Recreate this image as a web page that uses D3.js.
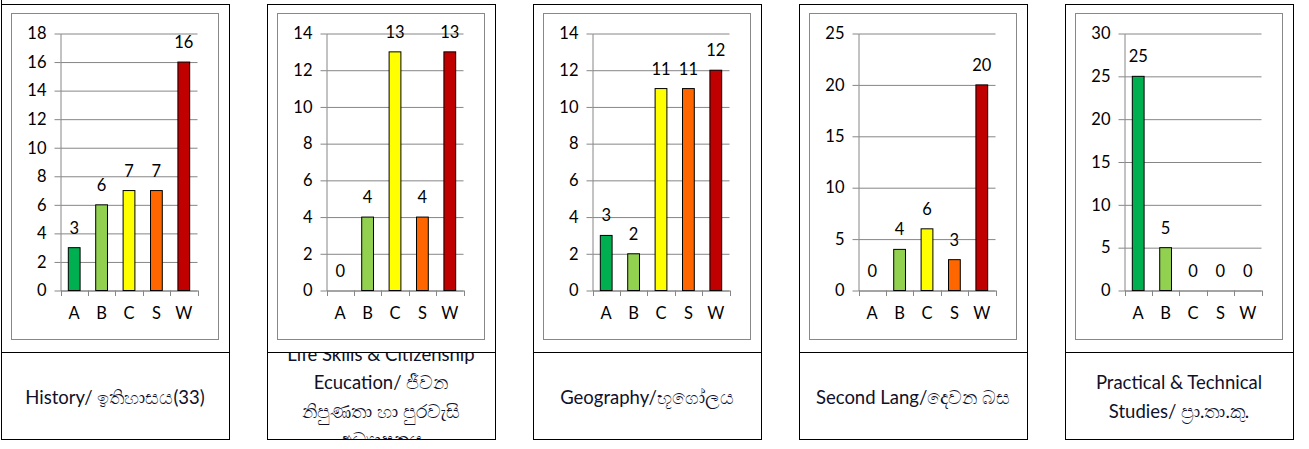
<!DOCTYPE html>
<html>
<head>
<meta charset="utf-8">
<script src="https://cdn.jsdelivr.net/npm/d3@7"></script>
<style>
  html, body { margin: 0; padding: 0; background: #fff; }
  svg { display: block; font-family: Lato, "Noto Sans", sans-serif; }
</style>
</head>
<body>
<svg id="chart" width="1309" height="449"></svg>
<script>
// grades on the x axis, same for every subject
const grades = ["A", "B", "C", "S", "W"];
const gradeColors = ["#00b050", "#92d050", "#ffff00", "#ff6600", "#c00000"];

// counts per grade, one array per subject
const history = [3, 6, 7, 7, 16];
const lifeSkills = [0, 4, 13, 4, 13];
const geography = [3, 2, 11, 11, 12];
const secondLang = [0, 4, 6, 3, 20];
const practical = [25, 5, 0, 0, 0];

// y axis top and step for each panel
const axisMax = [18, 14, 14, 25, 30];
const axisStep = [2, 2, 2, 5, 5];

// text in the cell under each chart, already split in lines
const subjectLabels = [
  ["History/ ඉතිහාසය(33)"],
  ["Life Skills & Citizenship", "Ecucation/ ජීවන", "නිපුණතා හා පුරවැසි", "අධ්‍යාපනය"],
  ["Geography/භූගෝලය"],
  ["Second Lang/දෙවන බස"],
  ["Practical & Technical", "Studies/ ප්‍රා.තා.කු."]
];

const subjects = [history, lifeSkills, geography, secondLang, practical];

const svg = d3.select("#chart");

const panelW = 228, pitch = 266;
const boxTop = 4.5, divider = 352.5, boxBottom = 439.5;
const numFont = "16.5px";

// the left border of the first cell runs up to the page edge
svg.append("line")
  .attr("x1", 1.5).attr("x2", 1.5).attr("y1", 0).attr("y2", boxTop)
  .attr("stroke", "#000");

subjects.forEach((values, i) => {
  const L = 1 + i * pitch;
  const g = svg.append("g");
  const rows = grades.map((gr, k) => ({ grade: gr, value: values[k], color: gradeColors[k] }));

  // label cell, text clipped to it
  svg.append("clipPath").attr("id", "clip" + i)
    .append("rect")
      .attr("x", L).attr("y", divider)
      .attr("width", panelW).attr("height", boxBottom - divider);

  const lines = subjectLabels[i];
  const lh = 28.5;
  const midY = 397;
  const lbl = g.append("g").attr("clip-path", "url(#clip" + i + ")");
  lines.forEach((t, k) => {
    lbl.append("text")
      .attr("x", L + 114)
      .attr("y", midY + (k - (lines.length - 1) / 2) * lh + 6.5)
      .attr("text-anchor", "middle")
      .style("font-size", "18.5px")
      .style("fill", "#10102a")
      .text(t);
  });

  // table cell borders
  g.append("rect")
    .attr("x", L + 0.5).attr("y", boxTop)
    .attr("width", panelW).attr("height", boxBottom - boxTop)
    .attr("fill", "none").attr("stroke", "#000");
  g.append("line")
    .attr("x1", L + 0.5).attr("x2", L + 0.5 + panelW)
    .attr("y1", divider).attr("y2", divider)
    .attr("stroke", "#000");

  // chart frame
  g.append("rect")
    .attr("x", L + 10.5).attr("y", 13.5)
    .attr("width", 207).attr("height", 326)
    .attr("fill", "#fff").attr("stroke", "#888");

  const x = d3.scaleBand()
    .domain(grades)
    .range([L + 59.5, L + 196.5])
    .paddingInner(0.57)
    .paddingOuter(0.285);

  const y = d3.scaleLinear()
    .domain([0, axisMax[i]])
    .range([290.5, 33.5]);

  const ticks = d3.range(0, axisMax[i] + axisStep[i] / 2, axisStep[i]);

  // grid lines
  g.append("g")
    .attr("transform", `translate(${L + 59.5},0)`)
    .call(d3.axisLeft(y).tickValues(ticks).tickSize(-(196.5 - 59.5)).tickFormat(""))
    .call(a => a.select(".domain").remove())
    .call(a => a.selectAll("line").attr("stroke", "#868686"));

  // y axis with labels
  g.append("g")
    .attr("transform", `translate(${L + 59.5},0)`)
    .call(d3.axisLeft(y).tickValues(ticks).tickSize(6).tickPadding(8).tickSizeOuter(0))
    .call(a => a.select(".domain").attr("stroke", "#868686"))
    .call(a => a.selectAll("line").attr("stroke", "#868686"))
    .call(a => a.selectAll("text")
      .style("font-size", numFont).style("font-family", "Lato, sans-serif").attr("fill", "#000"));

  // x axis: labels centred, ticks at category edges
  g.append("g")
    .attr("transform", "translate(0,290.5)")
    .call(d3.axisBottom(x).tickSize(0).tickPadding(17))
    .call(a => a.select(".domain").attr("stroke", "#868686"))
    .call(a => a.selectAll("text")
      .style("font-size", numFont).style("font-family", "Lato, sans-serif").attr("fill", "#000"));

  const edges = d3.range(grades.length + 1).map(k => x.range()[0] + k * x.step());
  g.selectAll(".edge").data(edges).join("line")
    .attr("x1", d => Math.round(d) + 0.5).attr("x2", d => Math.round(d) + 0.5)
    .attr("y1", 290.5).attr("y2", 296)
    .attr("stroke", "#868686");

  // bars
  g.selectAll(".bar").data(rows.filter(d => d.value > 0)).join("rect")
    .attr("x", d => x(d.grade))
    .attr("y", d => y(d.value))
    .attr("width", x.bandwidth())
    .attr("height", d => y(0) - y(d.value))
    .attr("fill", d => d.color)
    .attr("stroke", "#000");

  // value labels
  g.selectAll(".val").data(rows).join("text")
    .attr("x", d => x(d.grade) + x.bandwidth() / 2)
    .attr("y", d => y(d.value) - 14)
    .attr("text-anchor", "middle")
    .style("font-size", numFont)
    .style("fill", "#000")
    .text(d => d.value);
});
</script>
</body>
</html>
